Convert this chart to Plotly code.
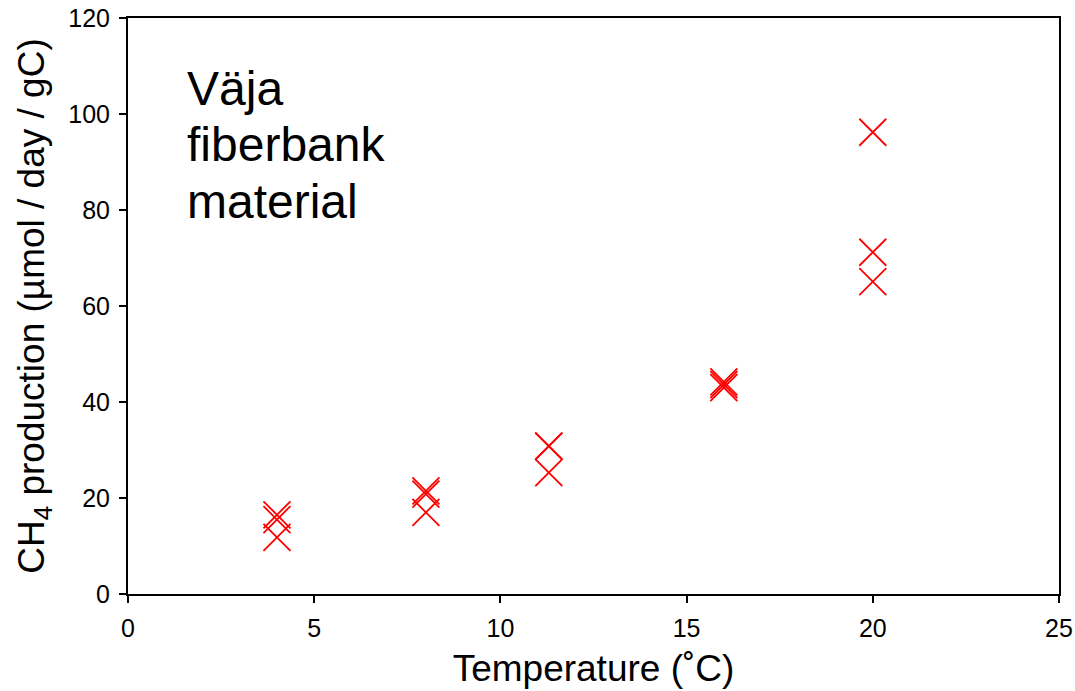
import plotly.graph_objects as go

temperature = [4, 4, 4, 8, 8, 8, 11.3, 11.3, 11.3, 16, 16, 16, 20, 20, 20]
ch4_production = [16.5, 15.5, 11.8, 21.5, 20.8, 17.0, 30.8, 30.8, 25.3, 43.0, 43.6, 44.2, 96.2, 71.2, 65.1]

x_ticks = [0, 5, 10, 15, 20, 25]
y_ticks = [0, 20, 40, 60, 80, 100, 120]
label_lines = ["Väja", "fiberbank", "material"]

FONT = "Liberation Sans, Arial"

fig = go.Figure()
fig.add_trace(go.Scatter(
    x=temperature, y=ch4_production, mode="markers",
    marker=dict(symbol="x-thin-open", size=27, color="red",
                line=dict(color="red", width=1.8)),
    showlegend=False,
))

for line, ypos in zip(label_lines, [0.878, 0.780, 0.682]):
    fig.add_annotation(
        x=0.061, y=ypos, xref="paper", yref="paper", xanchor="left", yanchor="middle",
        text=line, showarrow=False, align="left",
        font=dict(size=48, color="black", family=FONT),
    )

axis_common = dict(
    showgrid=False, zeroline=False, showline=True, linecolor="black", linewidth=2,
    mirror=True, ticks="outside", ticklen=7, tickwidth=1.5, tickcolor="black",
    tickfont=dict(size=25, color="black", family=FONT), automargin=False,
)

fig.update_xaxes(range=[0, 25], tickvals=x_ticks, ticklabelstandoff=4,
                 title=dict(text="Temperature (˚C)", font=dict(size=37, color="black", family=FONT), standoff=14),
                 **axis_common)
fig.update_yaxes(range=[0, 120], tickvals=y_ticks, ticklabelstandoff=4,
                 title=dict(text="CH<sub>4</sub> production (µmol / day / gC)", font=dict(size=37, color="black", family=FONT), standoff=12),
                 **axis_common)

fig.update_layout(
    width=1075, height=691, margin=dict(l=128, r=16, t=18, b=97),
    plot_bgcolor="white", paper_bgcolor="white",
    font=dict(family=FONT, color="black"),
)

fig.write_html("out.html")
